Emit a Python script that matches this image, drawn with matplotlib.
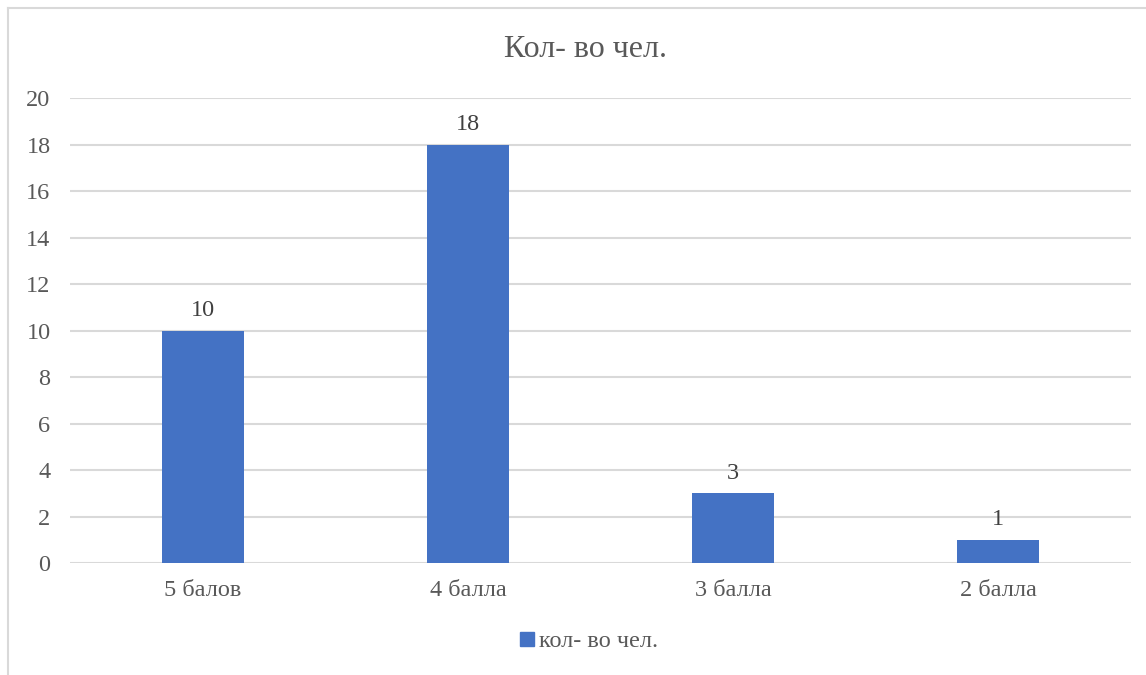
import matplotlib as mpl

mpl.use("Agg")

import matplotlib.pyplot as plt
from matplotlib.lines import Line2D
from matplotlib.patches import Patch

categories = ["5 балов", "4 балла", "3 балла", "2 балла"]
counts = [10, 18, 3, 1]
series_name = "кол- во чел."
chart_title = "Кол- во чел."
y_ticks = [0, 2, 4, 6, 8, 10, 12, 14, 16, 18, 20]

bar_color = "#4472C4"
grid_color = "#D9D9D9"
text_color = "#595959"

plt.rcParams["font.family"] = ["Liberation Serif", "DejaVu Serif"]

fig = plt.figure(figsize=(11.46, 6.75), dpi=100)
ax = fig.add_axes([0.0611, 0.1659, 0.9258, 0.6889])

positions = list(range(len(categories)))
bars = ax.bar(positions, counts, width=0.31, color=bar_color, zorder=3)
for bar, value in zip(bars, counts):
    ax.annotate(str(value), (bar.get_x() + bar.get_width() / 2, value),
                xytext=(0, 7), textcoords="offset points", ha="center", va="bottom",
                fontsize=17.5, color="#404040")

ax.set_xlim(-0.5, len(categories) - 0.5)
ax.set_ylim(0, 20)
ax.set_yticks(y_ticks)
ax.set_xticks(positions)
ax.set_xticklabels(categories)
ax.tick_params(axis="both", length=0, labelsize=17.5, labelcolor=text_color)
ax.tick_params(axis="y", pad=14)
ax.tick_params(axis="x", pad=12)
ax.grid(axis="y", color=grid_color, linewidth=1.5, zorder=0)
for spine in ax.spines.values():
    spine.set_visible(False)

fig.text(0.5105, 0.927, chart_title, ha="center", va="center", fontsize=23, color=text_color)

fig.legend(handles=[Patch(color=bar_color, label=series_name)], loc="center",
           bbox_to_anchor=(0.514, 0.049), frameon=False, fontsize=17.5,
           handlelength=0.55, handleheight=0.55, handletextpad=0.2, labelcolor=text_color)

# chart area border (left and top edges visible in the crop)
fig.add_artist(Line2D([0.0070, 0.0070], [0.0, 0.988], color=grid_color, linewidth=1.5))
fig.add_artist(Line2D([0.0070, 1.0], [0.988, 0.988], color=grid_color, linewidth=1.5))

fig.savefig("out.png", dpi=100)
